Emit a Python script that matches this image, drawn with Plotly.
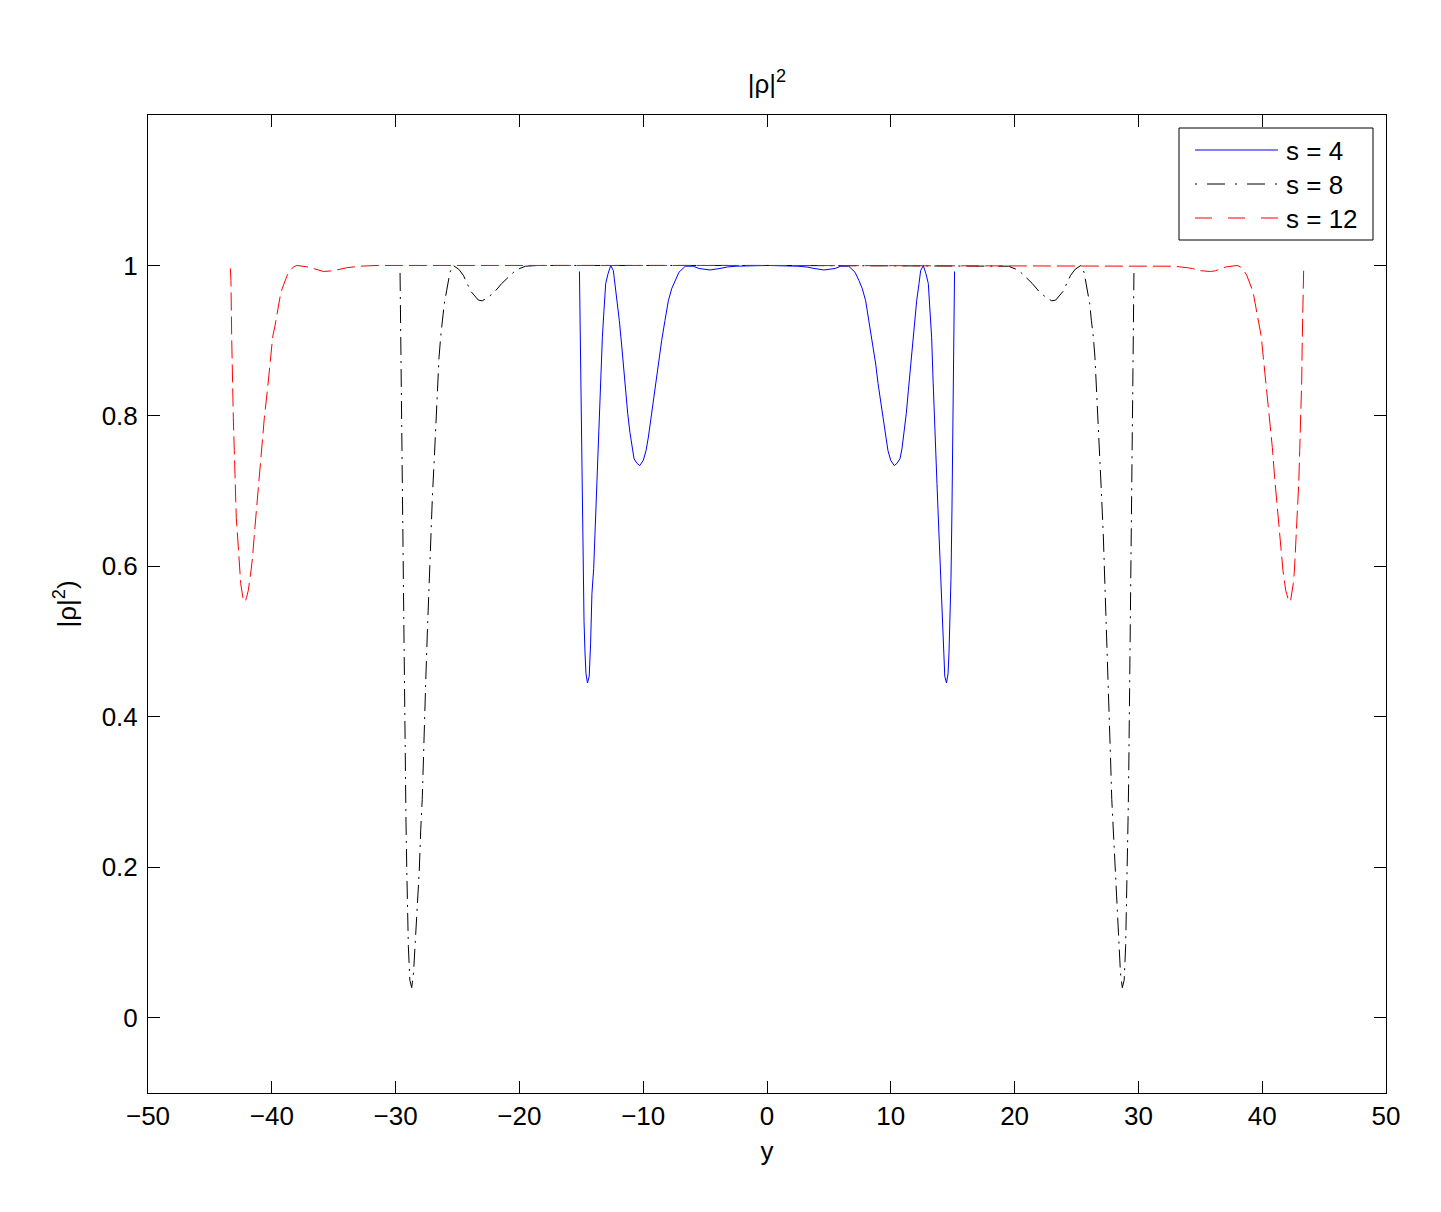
import plotly.graph_objects as go

# ---------------- data ----------------
s4_x = [-15.15, -15.08, -15.0, -14.94, -14.86, -14.78, -14.7, -14.62, -14.5, -14.36,
        -14.25, -14.14, -14.0, -13.92, -13.81, -13.73, -13.6, -13.49, -13.41, -13.3,
        -13.17, -13.03, -12.84, -12.62, -12.41, -12.28, -12.09, -11.93, -11.74, -11.6,
        -11.42, -11.25, -11.07, -10.9, -10.74, -10.5, -10.28, -9.99, -9.77, -9.58,
        -9.4, -9.18, -8.97, -8.78, -8.51, -8.24, -7.97, -7.7, -7.43, -7.11,
        -6.6, -5.95, -5.5, -4.6, -3.8, -3.2, -2.5, 0.0,
        2.5, 3.2, 3.8, 4.6, 5.5, 5.95, 6.6,
        7.11, 7.43, 7.7, 7.97, 8.24, 8.51, 8.78, 8.97, 9.18, 9.4,
        9.58, 9.77, 9.99, 10.28, 10.5, 10.74, 10.9, 11.07, 11.25, 11.42,
        11.6, 11.74, 11.93, 12.09, 12.28, 12.41, 12.62, 12.84, 13.03, 13.17,
        13.3, 13.41, 13.49, 13.6, 13.73, 13.81, 13.92, 14.0, 14.14, 14.25,
        14.36, 14.5, 14.62, 14.7, 14.78, 14.86, 14.94, 15.0, 15.08, 15.15]
s4_y = [0.992, 0.90, 0.78, 0.675, 0.583, 0.527, 0.485, 0.457, 0.445, 0.454,
        0.497, 0.564, 0.597, 0.631, 0.676, 0.71, 0.785, 0.817, 0.849, 0.904,
        0.94, 0.976, 0.989, 1.0, 0.993, 0.976, 0.953, 0.927, 0.894, 0.865,
        0.834, 0.803, 0.778, 0.756, 0.743, 0.737, 0.734, 0.741, 0.754, 0.772,
        0.794, 0.82, 0.843, 0.869, 0.9, 0.927, 0.953, 0.969, 0.98, 0.991,
        0.999, 0.999, 0.996, 0.994, 0.996, 0.998, 0.999, 1.0,
        0.999, 0.998, 0.996, 0.994, 0.996, 0.999, 0.999,
        0.991, 0.98, 0.969, 0.953, 0.927, 0.9, 0.869, 0.843, 0.82, 0.794,
        0.772, 0.754, 0.741, 0.734, 0.737, 0.743, 0.756, 0.778, 0.803, 0.834,
        0.865, 0.894, 0.927, 0.953, 0.976, 0.993, 1.0, 0.989, 0.976, 0.94,
        0.904, 0.849, 0.817, 0.785, 0.71, 0.676, 0.631, 0.597, 0.564, 0.497,
        0.454, 0.445, 0.457, 0.485, 0.527, 0.583, 0.675, 0.78, 0.90, 0.992]

s8_x = [-29.64, -29.56, -29.51, -29.46, -29.37, -29.29, -29.21, -29.16, -29.1, -29.05,
        -28.97, -28.85, -28.7, -28.55, -28.45, -28.36, -28.22, -28.09, -27.97, -27.85,
        -27.74, -27.66, -27.56, -27.44, -27.33, -27.17, -27.03, -26.87, -26.74, -26.6,
        -26.49, -26.36, -26.2, -26.07, -25.87, -25.74, -25.61, -25.35, -24.9, -24.53,
        -24.26, -23.94, -23.32, -23.0, -22.51, -22.05, -21.43, -20.62, -20.27, -19.5,
        -18.5, 0.0,
        18.5, 19.5, 20.27, 20.62, 21.43, 22.05, 22.51, 23.0, 23.32, 23.94,
        24.26, 24.53, 24.9, 25.35, 25.61, 25.74, 25.87, 26.07, 26.2, 26.36,
        26.49, 26.6, 26.74, 26.87, 27.03, 27.17, 27.33, 27.44, 27.56, 27.66,
        27.74, 27.85, 27.97, 28.09, 28.22, 28.36, 28.45, 28.55, 28.7, 28.85,
        28.97, 29.05, 29.1, 29.16, 29.21, 29.29, 29.37, 29.46, 29.51, 29.56, 29.64]
s8_y = [0.99, 0.86, 0.754, 0.665, 0.53, 0.42, 0.31, 0.26, 0.2, 0.15,
        0.095, 0.05, 0.04, 0.06, 0.09, 0.115, 0.156, 0.195, 0.25, 0.29,
        0.35, 0.41, 0.45, 0.51, 0.563, 0.639, 0.692, 0.745, 0.798, 0.843,
        0.878, 0.905, 0.927, 0.949, 0.967, 0.98, 0.991, 1.0, 0.995, 0.987,
        0.978, 0.966, 0.954, 0.953, 0.958, 0.964, 0.976, 0.989, 0.994, 0.999,
        1.0, 1.0,
        1.0, 0.999, 0.994, 0.989, 0.976, 0.964, 0.958, 0.953, 0.954, 0.966,
        0.978, 0.987, 0.995, 1.0, 0.991, 0.98, 0.967, 0.949, 0.927, 0.905,
        0.878, 0.843, 0.798, 0.745, 0.692, 0.639, 0.563, 0.51, 0.45, 0.41,
        0.35, 0.29, 0.25, 0.195, 0.156, 0.115, 0.09, 0.06, 0.04, 0.05,
        0.095, 0.15, 0.2, 0.26, 0.31, 0.42, 0.53, 0.665, 0.754, 0.86, 0.99]

s12_x = [-43.35, -43.3, -43.24, -43.19, -43.11, -43.03, -42.95, -42.87, -42.76, -42.68,
         -42.6, -42.51, -42.3, -42.16, -42.03, -41.9, -41.68, -41.57, -41.36, -41.17,
         -41.0, -40.82, -40.6, -40.33, -40.09, -39.93, -39.74, -39.47, -39.26, -38.75,
         -38.53, -38.26, -37.99, -37.05, -36.65, -36.24, -35.84, -35.03, -34.36, -33.95,
         -32.88, -31.5, 0.0,
         31.5, 32.88, 33.95, 34.36, 35.03, 35.84, 36.24, 36.65, 37.05, 37.99,
         38.26, 38.53, 38.75, 39.26, 39.47, 39.74, 39.93, 40.09, 40.33, 40.6,
         40.82, 41.0, 41.17, 41.36, 41.57, 41.68, 41.9, 42.03, 42.16, 42.3,
         42.51, 42.6, 42.68, 42.76, 42.87, 42.95, 43.03, 43.11, 43.19, 43.24, 43.3, 43.35]
s12_y = [0.996, 0.98, 0.905, 0.845, 0.798, 0.754, 0.71, 0.665, 0.639, 0.621,
         0.594, 0.577, 0.555, 0.553, 0.559, 0.568, 0.594, 0.61, 0.652, 0.688,
         0.719, 0.758, 0.798, 0.838, 0.878, 0.905, 0.92, 0.945, 0.965, 0.987,
         0.993, 0.998, 1.0, 0.998, 0.996, 0.993, 0.992, 0.993, 0.996, 0.997,
         0.999, 1.0, 1.0,
         1.0, 0.999, 0.997, 0.996, 0.993, 0.992, 0.993, 0.996, 0.998, 1.0,
         0.998, 0.993, 0.987, 0.965, 0.945, 0.92, 0.905, 0.878, 0.838, 0.798,
         0.758, 0.719, 0.688, 0.652, 0.61, 0.594, 0.568, 0.559, 0.553, 0.555,
         0.577, 0.594, 0.621, 0.639, 0.665, 0.71, 0.754, 0.798, 0.845, 0.905, 0.98, 0.996]

series_names = ["s = 4", "s = 8", "s = 12"]
x_ticks = [-50, -40, -30, -20, -10, 0, 10, 20, 30, 40, 50]
y_ticks = [0, 0.2, 0.4, 0.6, 0.8, 1]
y_ticklabels = ["0", "0.2", "0.4", "0.6", "0.8", "1"]

# ---------------- styling ----------------
FONT = "Liberation Sans, Arial, Helvetica, sans-serif"
FS = 26
OFF = 8                      # page body margin
W, H = 1441 - 2 * OFF, 1212 - 2 * OFF
L, T = 148 - OFF, 115 - OFF
PW, PH = 1238, 978
R, B = W - L - PW, H - T - PH
colors = ["#0000ff", "#000000", "#ff0000"]
dashes = ["solid", "18px,6px,2px,6px", "18px,6px"]
legend_dashes = ["solid", "2px,10px,18px,10px", "17px,16px"]

fig = go.Figure()
for xs, ys, name, c, d in zip([s4_x, s8_x, s12_x], [s4_y, s8_y, s12_y],
                              series_names, colors, dashes):
    fig.add_trace(go.Scatter(x=xs, y=ys, mode="lines", name=name,
                             line=dict(color=c, width=1, dash=d),
                             showlegend=False))

axis_common = dict(showgrid=False, zeroline=False, showline=True, linecolor="black",
                   linewidth=1, mirror="ticks", ticks="inside", ticklen=12,
                   tickcolor="black", tickwidth=1,
                   tickfont=dict(family=FONT, size=FS, color="black"))

fig.update_layout(
    width=W, height=H,
    margin=dict(l=L, r=R, t=T, b=B),
    paper_bgcolor="white", plot_bgcolor="white",
    font=dict(family=FONT, size=FS, color="black"),
    title=dict(text="|ρ|<sup>2</sup>", x=0.5, xref="paper", xanchor="center",
               y=1 - (84 - OFF) / H, yref="container", yanchor="middle",
               font=dict(family=FONT, size=FS, color="black")),
    xaxis=dict(range=[-50, 50], tickmode="array", tickvals=x_ticks,
               title=dict(text="y", standoff=11,
                          font=dict(family=FONT, size=FS, color="black")),
               **axis_common),
    yaxis=dict(range=[-0.1, 1.2], tickmode="array", tickvals=y_ticks,
               ticktext=y_ticklabels, ticklabelstandoff=4,
               title=dict(text="|ρ|<sup>2</sup>)", standoff=17,
                          font=dict(family=FONT, size=FS, color="black")),
               **axis_common),
)

# ---------------- custom MATLAB-style legend ----------------
def px(xs):          # screen pixel -> paper x
    return (xs - OFF - L) / PW
def py(ys):          # screen pixel -> paper y
    return (T + PH - (ys - OFF)) / PH

fig.add_shape(type="rect", xref="paper", yref="paper",
              x0=px(1179), x1=px(1373), y0=py(240), y1=py(128),
              line=dict(color="black", width=1), fillcolor="white", layer="above")
rows = [150, 184, 218]
for name, c, d, ry in zip(series_names, colors, legend_dashes, rows):
    fig.add_shape(type="line", xref="paper", yref="paper",
                  x0=px(1195), x1=px(1278), y0=py(ry), y1=py(ry),
                  line=dict(color=c, width=1, dash=d), layer="above")
    fig.add_annotation(text=name, xref="paper", yref="paper",
                       x=px(1284), y=py(ry + 1), xanchor="left", yanchor="middle",
                       showarrow=False,
                       font=dict(family=FONT, size=FS, color="black"))

fig.write_html("out.html")
